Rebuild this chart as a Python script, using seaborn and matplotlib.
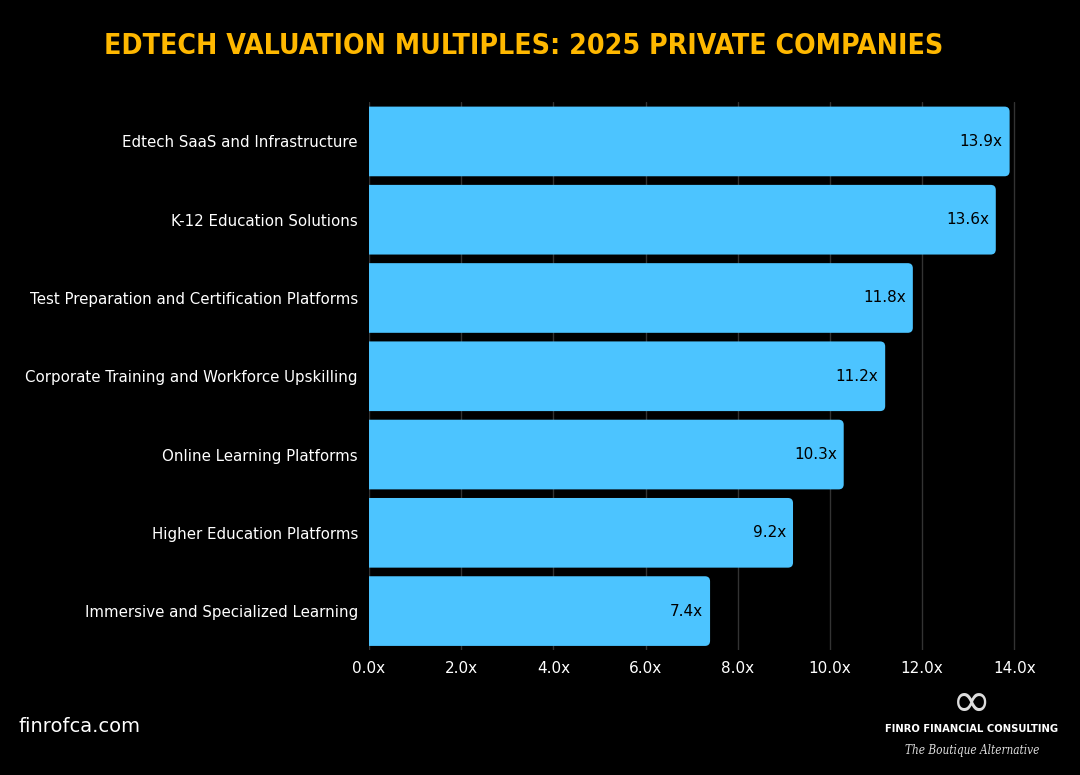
import matplotlib
matplotlib.use("Agg")
import matplotlib.pyplot as plt
from matplotlib.patches import FancyBboxPatch
import seaborn as sns
import pandas as pd

categories = [
    "Edtech SaaS and Infrastructure",
    "K-12 Education Solutions",
    "Test Preparation and Certification Platforms",
    "Corporate Training and Workforce Upskilling",
    "Online Learning Platforms",
    "Higher Education Platforms",
    "Immersive and Specialized Learning",
]
multiples = [13.9, 13.6, 11.8, 11.2, 10.3, 9.2, 7.4]
x_ticks = [0, 2, 4, 6, 8, 10, 12, 14]

df = pd.DataFrame({"category": categories, "multiple": multiples})

sns.set_style("dark")
plt.rcParams['font.family'] = ['DejaVu Sans']

fig = plt.figure(figsize=(10.8, 7.75), dpi=100, facecolor="black")
ax = fig.add_axes([0.3417, 0.161, 0.6102, 0.707])
ax.set_facecolor("black")

sns.barplot(data=df, x="multiple", y="category", color="#4CC4FF",
            saturation=1, width=0.89, linewidth=0, ax=ax, zorder=3)

# swap plain bars for ones rounded at the right end (left end is clipped by the axes)
for p in list(ax.patches):
    x0, y0 = p.get_x(), p.get_y()
    w, h = p.get_width(), p.get_height()
    p.set_visible(False)
    ax.add_patch(FancyBboxPatch((x0 - 0.2, y0), w + 0.2, h,
                                boxstyle="round,pad=0,rounding_size=0.11",
                                mutation_aspect=0.59, facecolor="#4CC4FF",
                                edgecolor="none", zorder=3))

ax.set_xlim(0, 14.3)
ax.set_xticks(x_ticks)
ax.set_xticklabels([f"{t:.1f}x" for t in x_ticks], color="white", fontsize=11)
ax.tick_params(axis="x", length=0, pad=8)
ax.tick_params(axis="y", length=0, pad=8, labelcolor="white", labelsize=10.8)
ax.xaxis.grid(True, color="#333333", linewidth=1, zorder=0)
ax.yaxis.grid(False)
ax.set_xlabel("")
ax.set_ylabel("")
for s in ax.spines.values():
    s.set_visible(False)

for i, v in enumerate(multiples):
    ax.text(v - 0.15, i, f"{v:.1f}x", ha="right", va="center",
            color="black", fontsize=11, zorder=4)

fig.text(0.4847, 0.941, "EDTECH VALUATION MULTIPLES: 2025 PRIVATE COMPANIES",
         ha="center", va="center", color="#FFB800", fontsize=20.3,
         fontweight="bold", fontstretch="condensed")

fig.text(0.017, 0.062, "finrofca.com", ha="left", va="center",
         color="white", fontsize=14)

fig.text(0.9, 0.092, "\u221e", ha="center", va="center", color="#dddddd",
         fontsize=34)
fig.text(0.9, 0.059, "FINRO FINANCIAL CONSULTING", ha="center", va="center",
         color="white", fontsize=8, fontweight="bold", fontstretch="condensed")
fig.text(0.9, 0.032, "The Boutique Alternative", ha="center", va="center",
         color="#dddddd", fontsize=8.5, fontstyle="italic", family="DejaVu Serif",
         fontstretch="condensed")

fig.savefig("out.png", dpi=100, facecolor="black")
